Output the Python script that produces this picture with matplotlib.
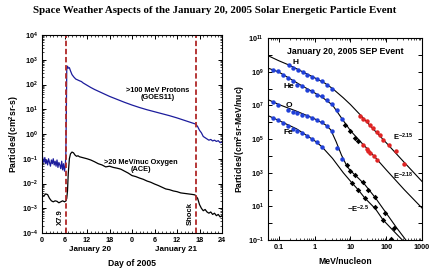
import numpy as np
import matplotlib
matplotlib.use("Agg")
import matplotlib.pyplot as plt
from matplotlib.ticker import FixedLocator, NullFormatter

plt.rcParams['font.family'] = ['Liberation Sans', 'DejaVu Sans']
plt.rcParams['mathtext.fontset'] = 'custom'
plt.rcParams['mathtext.rm'] = 'Liberation Sans'
plt.rcParams['mathtext.bf'] = 'Liberation Sans:bold'
plt.rcParams['mathtext.it'] = 'Liberation Sans:italic'

# ---------------- left panel data (hours from Jan 20 00 UT, log10 flux) ----------------
goes_hours = [0, 0.25, 0.5, 0.75, 1, 1.25, 1.5, 1.75, 2, 2.25, 2.5, 2.75, 3, 3.25, 3.5, 3.75,
              4, 4.25, 4.5, 4.75, 5, 5.25, 5.5, 5.75, 6, 6.2, 6.35, 6.5, 6.6, 6.8, 7.0, 7.3,
              7.6, 8, 8.5, 9, 10, 10.5, 11, 12, 13, 14, 15, 16, 17, 18, 20, 22, 24, 26, 28,
              30, 32, 34, 36, 38, 40, 41, 41.5, 42, 42.5, 43, 43.5, 44, 44.5, 45, 45.5, 46,
              46.5, 47, 47.5, 48]
goes_log = [-0.85, -1.0, -1.15, -0.95, -1.2, -1.05, -1.25, -1.0, -1.15, -1.3, -1.05, -1.2,
            -1.0, -1.25, -1.1, -1.3, -1.05, -1.35, -1.15, -1.25, -1.4, -1.1, -1.45, -1.2,
            -1.5, -1.3, -0.9, 1.0, 2.6, 2.74, 2.66, 2.68, 2.55, 2.4, 2.3, 2.22, 2.15, 2.12,
            2.06, 1.97, 1.88, 1.8, 1.73, 1.66, 1.59, 1.52, 1.4, 1.28, 1.17, 1.07, 0.98, 0.9,
            0.82, 0.74, 0.65, 0.55, 0.45, 0.4, 0.3, 0.15, 0.05, -0.1, -0.15, -0.2, -0.25,
            -0.22, -0.28, -0.25, -0.3, -0.27, -0.35, -0.33]

ace_hours = [0, 0.5, 1, 1.5, 2, 2.5, 3, 3.5, 4, 4.5, 5, 5.5, 6, 6.4, 6.6, 6.8, 7.0, 7.3,
             7.6, 8.0, 8.4, 8.8, 9.2, 9.6, 10, 11, 12, 13, 14, 15, 16, 17, 18, 19, 20, 21,
             22, 23, 24, 25, 26, 27, 28, 29, 30, 31, 32, 33, 34, 35, 36, 37, 38, 39, 40,
             40.8, 41.5, 42, 42.5, 43, 43.5, 44, 44.5, 45, 45.5, 46, 46.5, 47, 47.5, 48]
ace_log = [-2.5, -2.5, -2.42, -2.45, -2.6, -2.7, -2.74, -2.7, -2.72, -2.78, -2.74, -2.7,
           -2.74, -2.7, -2.6, -2.3, -1.6, -1.0, -0.8, -0.73, -0.76, -0.85, -0.9, -0.88,
           -0.92, -0.96, -1.0, -1.05, -1.12, -1.2, -1.25, -1.33, -1.3, -1.35, -1.38, -1.42,
           -1.5, -1.58, -1.68, -1.72, -1.78, -1.83, -1.9, -1.95, -2.02, -2.08, -2.15, -2.22,
           -2.25, -2.3, -2.33, -2.38, -2.4, -2.42, -2.44, -2.46, -2.6, -2.85, -3.0, -3.1,
           -3.05, -3.15, -3.2, -3.15, -3.25, -3.2, -3.3, -3.25, -3.35, -3.3]

flare_hour = 6.4
shock_hour = 41.0
time_ticks = [0, 6, 12, 18, 24, 30, 36, 42, 48]
time_ticklabels = ['0', '6', '12', '18', '0', '6', '12', '18', '24']

# ---------------- right panel data (log10 E [MeV/nuc], log10 fluence) ----------------
H_fit_logE = [-1.26, -1.0, -0.7, -0.5, -0.2, 0.0, 0.3, 0.5, 0.8, 1.0, 1.3, 1.6, 2.0, 2.5, 3.0]
H_fit_logF = [9.91, 9.65, 9.38, 9.17, 8.85, 8.64, 8.3, 8.0, 7.45, 7.05, 6.38, 5.68, 4.78, 3.62, 2.48]
H_blue_logE = [-0.72, -0.60, -0.45, -0.32, -0.20, -0.06, 0.07, 0.21, 0.35, 0.49]
H_blue_logF = [9.37, 9.22, 9.08, 8.98, 8.82, 8.68, 8.57, 8.42, 8.18, 7.99]
H_red_logE = [1.27, 1.36, 1.45, 1.54, 1.63, 1.73, 1.82, 1.91, 2.09, 2.28, 2.51]
H_red_logF = [6.34, 6.2, 6.04, 5.85, 5.65, 5.41, 5.25, 4.95, 4.65, 4.26, 3.52]

He_fit_logE = [-1.26, -1.0, -0.7, -0.4, -0.1, 0.2, 0.5, 0.76, 1.0, 1.3, 1.5, 1.73, 2.0, 2.5, 3.0]
He_fit_logF = [9.18, 8.98, 8.6, 8.22, 7.86, 7.5, 7.02, 6.22, 5.5, 4.8, 4.36, 3.82, 3.17, 2.0, 0.9]
He_blue_logE = [-1.17, -1.03, -0.89, -0.75, -0.61, -0.48, -0.34, -0.20, -0.06, 0.07, 0.21,
                0.35, 0.49, 0.63, 0.76]
He_blue_logF = [9.12, 9.02, 8.82, 8.62, 8.42, 8.23, 8.13, 7.93, 7.83, 7.6, 7.54, 7.33, 7.1,
                6.7, 6.2]
He_diam_logE = [0.85, 0.99, 1.13, 1.22]
He_diam_logF = [5.85, 5.45, 5.05, 4.9]
He_red_logE = [1.36, 1.45, 1.50, 1.56, 1.65, 1.73]
He_red_logF = [4.62, 4.4, 4.3, 4.15, 3.98, 3.78]

O_fit_logE = [-1.26, -1.0, -0.5, 0.0, 0.3, 0.45, 0.6, 0.75, 0.9, 1.0, 1.2, 1.4, 1.7, 2.0,
              2.3, 2.55]
O_fit_logF = [7.3, 7.05, 6.65, 6.2, 5.85, 5.55, 4.85, 4.05, 3.4, 3.12, 2.72, 2.3, 1.5, 0.6,
              -0.3, -1.0]
O_blue_logE = [-1.17, -1.03, -0.75, -0.61, -0.48, -0.34, -0.20, -0.06, 0.07, 0.21, 0.35, 0.49,
               0.63, 0.76]
O_blue_logF = [7.2, 7.04, 6.74, 6.6, 6.54, 6.44, 6.34, 6.24, 6.14, 6.02, 5.8, 5.45, 4.45, 3.8]
O_diam_logE = [0.9, 0.99, 1.13, 1.36, 1.5, 1.68, 1.96, 2.23]
O_diam_logF = [3.46, 3.07, 2.87, 2.47, 2.0, 1.58, 0.62, -0.3]

Fe_fit_logE = [-1.26, -1.0, -0.5, 0.0, 0.2, 0.5, 0.8, 1.04, 1.22, 1.4, 1.7, 1.91, 2.2, 2.45]
Fe_fit_logF = [6.35, 6.1, 5.6, 4.9, 4.55, 3.85, 3.0, 2.4, 1.98, 1.5, 0.85, 0.2, -0.45, -1.0]
Fe_blue_logE = [-1.17, -1.03, -0.89, -0.75, -0.61, -0.48, -0.34, -0.20, -0.06, 0.07, 0.21]
Fe_blue_logF = [6.24, 6.1, 5.95, 5.8, 5.62, 5.5, 5.35, 5.2, 5.0, 4.82, 4.55]
Fe_diam_logE = [1.04, 1.22, 1.40, 1.68, 1.91, 2.14]
Fe_diam_logF = [2.38, 1.98, 1.48, 0.98, 0.19, -0.92]

E_ticks = [0.1, 1, 10, 100, 1000]
E_ticklabels = ['0.1', '1', '10', '100', '1000']

# ---------------- figure ----------------
fig = plt.figure(figsize=(4.29, 2.72), dpi=100)
fig.text(0.5, 0.962, 'Space Weather Aspects of the January 20, 2005 Solar Energetic Particle Event',
         ha='center', va='center', fontsize=7.8, fontweight='bold', family='Liberation Serif')

blue_line = '#1c1c9c'
dash_red = '#b02828'
tfs = 5.2

ax1 = fig.add_axes([42 / 429, 1 - 233 / 272, 180 / 429, 198 / 272])
ax1.set_yscale('log')
ax1.plot(goes_hours, 10 ** np.array(goes_log), color=blue_line, lw=0.9)
ax1.plot(ace_hours, 10 ** np.array(ace_log), color='black', lw=0.9)
ax1.axvline(flare_hour, color=dash_red, lw=1.3, ls=(0, (3, 1.5)))
ax1.axvline(shock_hour, color=dash_red, lw=1.3, ls=(0, (3, 1.5)))
ax1.set_xlim(0, 48)
ax1.set_ylim(1e-4, 1e4)
ax1.set_xticks(time_ticks)
ax1.set_xticklabels(time_ticklabels)
ax1.xaxis.set_minor_locator(FixedLocator(np.arange(0, 49, 1)))
ydec = list(range(-4, 5))
ax1.set_yticks([10.0 ** d for d in ydec])
ax1.set_yticklabels([r'$\mathbf{10^{%d}}$' % d for d in ydec])
ax1.yaxis.set_minor_formatter(NullFormatter())
ax1.text(flare_hour - 1.4, 2.2e-4, 'X7.9', rotation=90, ha='center', va='bottom',
         fontsize=5.5, fontweight='bold')
ax1.text(shock_hour - 1.4, 2.2e-4, 'Shock', rotation=90, ha='center', va='bottom',
         fontsize=5.5, fontweight='bold')
ax1.text(30.8, 10 ** 1.62, '>100 MeV Protons\n(GOES11)', ha='center', va='center',
         fontsize=5.3, fontweight='bold', linespacing=0.95)
ax1.text(26.3, 10 ** -1.29, '>20 MeV/nuc Oxygen\n(ACE)', ha='center', va='center',
         fontsize=5.3, fontweight='bold', linespacing=0.95)
ax1.text(12.8, -0.085, 'January 20', transform=ax1.get_xaxis_transform(), ha='center',
         va='center', fontsize=5.8, fontweight='bold')
ax1.text(35.7, -0.085, 'January 21', transform=ax1.get_xaxis_transform(), ha='center',
         va='center', fontsize=5.8, fontweight='bold')
ax1.set_xlabel('Day of 2005', fontsize=6.2, fontweight='bold', labelpad=11)
ax1.set_ylabel(r'Particles/(cm$^{\mathbf{2}}$sr-s)', fontsize=6.2, fontweight='bold', labelpad=1)

ax2 = fig.add_axes([268 / 429, 1 - 240 / 272, 154 / 429, 202 / 272])
ax2.set_xscale('log')
ax2.set_yscale('log')
blue_pt = '#2040d8'
red_pt = '#e02424'
ms = 3.2
for fe, ff in [(H_fit_logE, H_fit_logF), (He_fit_logE, He_fit_logF),
               (O_fit_logE, O_fit_logF), (Fe_fit_logE, Fe_fit_logF)]:
    ax2.plot(10 ** np.array(fe), 10 ** np.array(ff), color='black', lw=0.8)
for be, bf in [(H_blue_logE, H_blue_logF), (He_blue_logE, He_blue_logF),
               (O_blue_logE, O_blue_logF), (Fe_blue_logE, Fe_blue_logF)]:
    ax2.plot(10 ** np.array(be), 10 ** np.array(bf), 'o', color=blue_pt, ms=ms, mec='none')
for de, df in [(He_diam_logE, He_diam_logF), (O_diam_logE, O_diam_logF),
               (Fe_diam_logE, Fe_diam_logF)]:
    ax2.plot(10 ** np.array(de), 10 ** np.array(df), 'D', color='black', ms=2.8, mec='none')
for re_, rf in [(H_red_logE, H_red_logF), (He_red_logE, He_red_logF)]:
    ax2.plot(10 ** np.array(re_), 10 ** np.array(rf), 'o', color=red_pt, ms=ms, mec='none')
ax2.set_xlim(0.05, 1000)
ax2.set_ylim(1e-1, 1e11)
ax2.set_xticks(E_ticks)
ax2.set_xticklabels(E_ticklabels)
ax2.xaxis.set_minor_formatter(NullFormatter())
rdec = list(range(-1, 12))
ax2.set_yticks([10.0 ** d for d in rdec])
ax2.set_yticklabels([r'$\mathbf{10^{%d}}$' % d if d % 2 == 1 else '' for d in rdec])
ax2.yaxis.set_minor_locator(FixedLocator([]))
ax2.text(0.5, 0.935, 'January 20, 2005 SEP Event', transform=ax2.transAxes, ha='center',
         va='center', fontsize=6.3, fontweight='bold')
ax2.text(0.30, 10 ** 9.55, 'H', fontsize=6, fontweight='bold', ha='center', va='center')
ax2.text(0.19, 10 ** 8.1, 'He', fontsize=6, fontweight='bold', ha='center', va='center')
ax2.text(0.19, 10 ** 7.0, 'O', fontsize=6, fontweight='bold', ha='center', va='center')
ax2.text(0.19, 10 ** 5.4, 'Fe', fontsize=6, fontweight='bold', ha='center', va='center')
ax2.text(10 ** 2.18, 10 ** 5.1, r'E$^{\mathbf{-2.15}}$', fontsize=5.5, fontweight='bold',
         va='center')
ax2.text(10 ** 2.18, 10 ** 2.8, r'E$^{\mathbf{-2.18}}$', fontsize=5.5, fontweight='bold',
         va='center')
ax2.text(10 ** 0.9, 10 ** 0.8, r'~E$^{\mathbf{-2.5}}$', fontsize=5.5, fontweight='bold',
         va='center')
ax2.set_xlabel('MeV/nucleon', fontsize=6.2, fontweight='bold', labelpad=4)
ax2.set_ylabel(r'Particles/(cm$^{\mathbf{2}}$sr-MeV/nuc)', fontsize=6.2, fontweight='bold',
               labelpad=1)

for ax in (ax1, ax2):
    ax.tick_params(which='both', direction='in', top=True, right=True, labelsize=tfs, pad=3)
    ax.tick_params(which='major', length=3, width=0.7)
    ax.tick_params(which='minor', length=1.6, width=0.5)
    for lab in ax.get_xticklabels() + ax.get_yticklabels():
        lab.set_fontweight('bold')
    for s in ax.spines.values():
        s.set_linewidth(0.8)

fig.savefig('out.png', dpi=100)
